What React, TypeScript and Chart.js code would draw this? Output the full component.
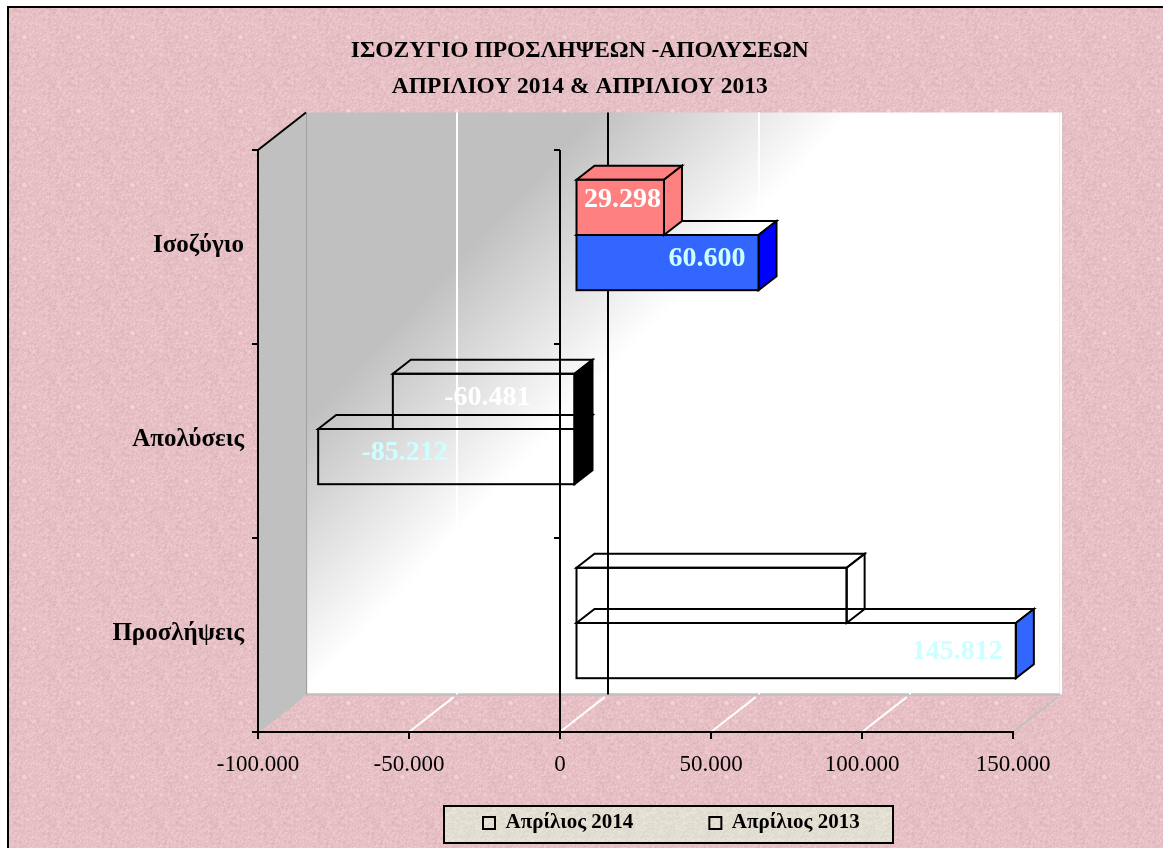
import React, { useEffect, useRef } from "react";
import { Chart, registerables } from "chart.js";

Chart.register(...registerables);

const categories = ["Ισοζύγιο", "Απολύσεις", "Προσλήψεις"];
const series2014Name = "Απρίλιος 2014";
const series2013Name = "Απρίλιος 2013";
const values2014 = [29298, -60481, 89779];
const values2013 = [60600, -85212, 145812];
const titleLines = ["ΙΣΟΖΥΓΙΟ ΠΡΟΣΛΗΨΕΩΝ -ΑΠΟΛΥΣΕΩΝ", "ΑΠΡΙΛΙΟΥ 2014 & ΑΠΡΙΛΙΟΥ 2013"];

const front2014 = ["#ff8080", "transparent", "transparent"];
const side2014 = ["#ff8080", "#000000", "transparent"];
const top2014 = ["#ff8080", "transparent", "transparent"];
const label2014 = "#ffffff";
const front2013 = ["#3366ff", "transparent", "transparent"];
const side2013 = ["#0000ff", "#000000", "#3366ff"];
const top2013 = ["transparent", "transparent", "transparent"];
const label2013 = "#ccffff";

// label placement relative to each bar's tip (screen px)
const labelShift2014 = [[-26, -19.5], [110, -15.5], [-56, -9]];
const labelShift2013 = [[-36, -15.5], [102, -15.5], [-43, -11]];

const FONT = '"Liberation Serif"';
const WALL_DX = 48;
const WALL_DY = -37.5;
const BAR_DX = 15.5;
const BAR_DY = -12;
const FACE_DX = 18;
const FACE_DY = -14;
const LEGEND_GAP = 76;

const fmt = (v: number) => {
  const a = Math.abs(v);
  const s = String(Math.round(a)).replace(/\B(?=(\d{3})+(?!\d))/g, ".");
  return (v < 0 ? "-" : "") + s;
};

function makeTexture(w: number, h: number, base: number[], amp: number, spot: string | null, seedStart: number) {
  const c = document.createElement("canvas");
  c.width = w;
  c.height = h;
  const g = c.getContext("2d")!;
  const img = g.createImageData(w, h);
  let seed = seedStart;
  const next = () => {
    seed = (seed * 1103515245 + 12345) & 0x7fffffff;
    return seed / 0x7fffffff;
  };
  const coarse: number[] = [];
  for (let i = 0; i < w * h; i++) coarse.push(next() - 0.5);
  for (let y = 0; y < h; y++) {
    for (let x = 0; x < w; x++) {
      const i = y * w + x;
      const r = ((x + 1) % w) + y * w;
      const d = x + ((y + 1) % h) * w;
      const n = (coarse[i] + coarse[r] + coarse[d]) * amp * 0.8;
      img.data[i * 4] = base[0] + n;
      img.data[i * 4 + 1] = base[1] + n;
      img.data[i * 4 + 2] = base[2] + n;
      img.data[i * 4 + 3] = 255;
    }
  }
  g.putImageData(img, 0, 0);
  if (spot) {
    g.fillStyle = spot;
    g.beginPath();
    g.arc(w * 0.45, h * 0.5, 2, 0, Math.PI * 2);
    g.fill();
  }
  return c;
}

const barBox = (el: any) => {
  const p = el.getProps(["x", "y", "base", "height"], true);
  return {
    l: Math.min(p.x, p.base),
    r: Math.max(p.x, p.base),
    t: p.y - p.height / 2,
    b: p.y + p.height / 2,
  };
};

const scenePlugin = {
  id: "scene",
  afterLayout(chart: any) {
    const lg = chart.legend;
    if (lg) {
      lg.left = 483 - LEGEND_GAP;
      lg.right = 1400;
      lg.top = 812.5 - LEGEND_GAP;
      lg.bottom = 848;
    }
    const tb = chart.titleBlock;
    if (tb) {
      tb.left += 69;
      tb.right += 69;
    }
  },
  beforeDraw(chart: any) {
    const { ctx, scales, chartArea } = chart;
    const xs = scales.x;
    const { left, right, top, bottom } = chartArea;
    ctx.save();
    ctx.fillStyle = "#ffffff";
    ctx.fillRect(0, 0, 1163, 848);
    const pink = ctx.createPattern(makeTexture(54, 74, [231, 192, 197], 13, "#eed6d9", 7), "repeat");
    ctx.fillStyle = pink;
    ctx.fillRect(8, 7, 1155, 841);
    ctx.strokeStyle = "#000000";
    ctx.lineWidth = 2;
    ctx.beginPath();
    ctx.moveTo(8, 848);
    ctx.lineTo(8, 7);
    ctx.lineTo(1163, 7);
    ctx.stroke();

    const wl = left + WALL_DX;
    const wr = right + WALL_DX;
    const wt = top + WALL_DY;
    const wb = bottom + WALL_DY;
    // back wall
    const grad = ctx.createLinearGradient(wl, wt, wl + 290, wt + 273);
    grad.addColorStop(0, "#c0c0c0");
    grad.addColorStop(0.53, "#c0c0c0");
    grad.addColorStop(1, "#ffffff");
    ctx.fillStyle = grad;
    ctx.fillRect(wl, wt, wr - wl, wb - wt);
    // side wall
    ctx.fillStyle = "#c0c0c0";
    ctx.beginPath();
    ctx.moveTo(left, top);
    ctx.lineTo(wl, wt);
    ctx.lineTo(wl, wb);
    ctx.lineTo(left, bottom);
    ctx.closePath();
    ctx.fill();
    // wall edges
    ctx.strokeStyle = "#c0c0c0";
    ctx.lineWidth = 2.5;
    ctx.beginPath();
    ctx.moveTo(wl, wt);
    ctx.lineTo(wl, wb);
    ctx.lineTo(wr, wb);
    ctx.lineTo(wr, wt);
    ctx.stroke();
    ctx.strokeStyle = "#a0a0a0";
    ctx.lineWidth = 1;
    ctx.beginPath();
    ctx.moveTo(wl + 0.5, wt);
    ctx.lineTo(wl + 0.5, wb);
    ctx.stroke();
    // gridlines on the wall and floor
    xs.ticks.forEach((t: any) => {
      const px = xs.getPixelForValue(t.value);
      if (t.value > xs.min && t.value !== 0) {
        ctx.strokeStyle = "#ffffff";
        ctx.lineWidth = 2;
        ctx.beginPath();
        ctx.moveTo(px + WALL_DX, wt);
        ctx.lineTo(px + WALL_DX, wb);
        ctx.stroke();
      }
      ctx.strokeStyle = t.value === xs.max || t.value === xs.min ? "#c0c0c0" : "#ffffff";
      ctx.lineWidth = 2;
      ctx.beginPath();
      ctx.moveTo(px, bottom);
      ctx.lineTo(px + WALL_DX * 0.93, bottom + WALL_DY * 0.93);
      ctx.stroke();
    });
    // zero line on the back wall
    const z = xs.getPixelForValue(0);
    ctx.strokeStyle = "#000000";
    ctx.lineWidth = 2;
    ctx.beginPath();
    ctx.moveTo(z + WALL_DX, wt);
    ctx.lineTo(z + WALL_DX, wb);
    ctx.stroke();
    // top edge of side wall
    ctx.beginPath();
    ctx.moveTo(left, top);
    ctx.lineTo(wl, wt);
    ctx.stroke();
    // legend panel
    ctx.fillStyle = ctx.createPattern(makeTexture(40, 40, [227, 222, 210], 10, null, 99), "repeat");
    ctx.fillRect(444, 806, 449, 37);
    ctx.strokeStyle = "#000000";
    ctx.lineWidth = 2;
    ctx.strokeRect(444, 806, 449, 37);
    ctx.restore();
  },
  beforeDatasetsDraw(chart: any) {
    const { ctx, scales, chartArea } = chart;
    const z = scales.x.getPixelForValue(0);
    const n = categories.length;
    ctx.save();
    ctx.strokeStyle = "#000000";
    ctx.lineWidth = 2;
    for (let i = 0; i <= n; i++) {
      const y = chartArea.top + (i * (chartArea.bottom - chartArea.top)) / n;
      ctx.beginPath();
      ctx.moveTo(z - 6, y);
      ctx.lineTo(z, y);
      ctx.stroke();
    }
    ctx.restore();
  },
  beforeDatasetDraw(chart: any, args: any) {
    const { ctx } = chart;
    const ds = chart.data.datasets[args.index];
    ctx.save();
    ctx.translate(BAR_DX, BAR_DY);
    ctx.strokeStyle = "#000000";
    ctx.lineWidth = 2;
    ctx.lineJoin = "miter";
    args.meta.data.forEach((el: any, i: number) => {
      const { l, r, t, b } = barBox(el);
      ctx.fillStyle = ds.topColors[i];
      ctx.beginPath();
      ctx.moveTo(l, t);
      ctx.lineTo(l + FACE_DX, t + FACE_DY);
      ctx.lineTo(r + FACE_DX, t + FACE_DY);
      ctx.lineTo(r, t);
      ctx.closePath();
      ctx.fill();
      ctx.stroke();
      ctx.fillStyle = ds.sideColors[i];
      ctx.beginPath();
      ctx.moveTo(r, t);
      ctx.lineTo(r + FACE_DX, t + FACE_DY);
      ctx.lineTo(r + FACE_DX, b + FACE_DY);
      ctx.lineTo(r, b);
      ctx.closePath();
      ctx.fill();
      ctx.stroke();
    });
  },
  afterDatasetDraw(chart: any, args: any) {
    const { ctx } = chart;
    args.meta.data.forEach((el: any) => {
      const { l, r, t, b } = barBox(el);
      ctx.strokeRect(l, t, r - l, b - t);
    });
    ctx.restore();
  },
  afterDatasetsDraw(chart: any) {
    const { ctx } = chart;
    ctx.save();
    ctx.font = `bold 28px ${FONT}`;
    ctx.textAlign = "center";
    ctx.textBaseline = "middle";
    chart.data.datasets.forEach((ds: any, d: number) => {
      ctx.fillStyle = ds.labelColor;
      chart.getDatasetMeta(d).data.forEach((el: any, i: number) => {
        const p = el.getProps(["x", "y"], true);
        const [dx, dy] = ds.labelShift[i];
        ctx.fillText(fmt(ds.data[i]), p.x + dx, p.y + dy);
      });
    });
    ctx.restore();
  },
};

export default function App() {
  const ref = useRef<HTMLCanvasElement>(null);
  useEffect(() => {
    const chart = new Chart(ref.current!, {
      type: "bar",
      plugins: [scenePlugin],
      data: {
        labels: categories,
        datasets: [
          {
            label: series2014Name,
            data: values2014,
            backgroundColor: front2014,
            borderWidth: 0,
            clip: false,
            sideColors: side2014,
            topColors: top2014,
            labelColor: label2014,
            labelShift: labelShift2014,
          },
          {
            label: series2013Name,
            data: values2013,
            backgroundColor: front2013,
            borderWidth: 0,
            clip: false,
            sideColors: side2013,
            topColors: top2013,
            labelColor: label2013,
            labelShift: labelShift2013,
          },
        ] as any,
      },
      options: {
        indexAxis: "y",
        responsive: false,
        animation: false,
        devicePixelRatio: 1,
        datasets: { bar: { categoryPercentage: 0.569, barPercentage: 1 } },
        layout: { padding: { left: 8.5, right: 150, top: 0, bottom: 5 } },
        plugins: {
          title: {
            display: true,
            text: titleLines,
            color: "#000000",
            font: { family: FONT, size: 23.5, weight: "bold", lineHeight: 36 / 23.5 },
            padding: { top: 33, bottom: 45 },
          },
          legend: {
            display: true,
            position: "bottom",
            align: "start",
            maxHeight: 38,
            labels: {
              color: "#000000",
              boxWidth: 12,
              boxHeight: 12,
              padding: LEGEND_GAP,
              font: { family: FONT, size: 21, weight: "bold", lineHeight: 1.2 },
              generateLabels: (c: any) =>
                c.data.datasets.map((ds: any, i: number) => ({
                  text: ds.label,
                  fillStyle: "transparent",
                  strokeStyle: "#000000",
                  lineWidth: 2,
                  datasetIndex: i,
                  hidden: false,
                })),
            },
          },
          tooltip: { enabled: false },
        },
        scales: {
          x: {
            type: "linear",
            min: -100000,
            max: 150000,
            ticks: {
              stepSize: 50000,
              maxRotation: 0,
              color: "#000000",
              padding: 12,
              font: { family: FONT, size: 23 },
              callback: (v: any) => fmt(Number(v)),
            },
            grid: {
              color: (c: any) => (c.tick && c.tick.value === 0 ? "#000000" : "transparent"),
              lineWidth: 2,
              tickColor: "#000000",
              tickLength: 7,
            },
            border: { display: true, color: "#000000", width: 2 },
            afterFit: (s: any) => {
              s.height = 73;
            },
          },
          y: {
            type: "category",
            ticks: {
              color: "#000000",
              padding: 8,
              labelOffset: -1,
              font: { family: FONT, size: 25, weight: "bold" },
            },
            grid: {
              color: "transparent",
              tickColor: "#000000",
              tickLength: 6,
              lineWidth: 2,
              offset: true,
            },
            border: { display: true, color: "#000000", width: 2 },
            afterFit: (s: any) => {
              s.width = 249.5;
            },
          },
        },
      } as any,
    });
    return () => chart.destroy();
  }, []);
  return (
    <canvas
      ref={ref}
      width={1163}
      height={848}
      style={{ position: "fixed", left: 0, top: 0, width: 1163, height: 848 }}
    />
  );
}
